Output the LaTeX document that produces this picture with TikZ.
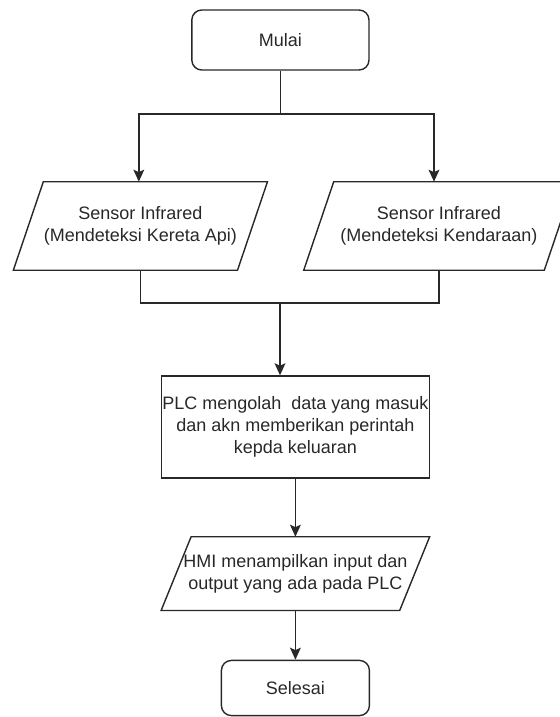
\documentclass[tikz,border=0pt]{standalone}
\usepackage{fontspec}
\setmainfont{Liberation Sans}
\usetikzlibrary{arrows.meta,positioning,calc}
\definecolor{flowgray}{RGB}{40,40,40}

\tikzset{
    terminal/.style={draw=flowgray, line width=1pt, rounded corners=0.25cm, align=center, text=flowgray},
    process/.style={draw=flowgray, line width=1pt, align=center, text=flowgray, inner sep=0.02cm},
    io/.style={align=center, text=flowgray, inner sep=0pt},
    flow/.style={draw=flowgray, line width=1pt},
    arrow/.style={flow, -{Stealth[length=3mm,width=2.7mm,inset=0.6mm]}}
}

% slanted outline round an io node
\newcommand{\iooutline}[1]{%
    \draw[flow, line join=miter] ($(#1.south west)+(-0.375,0)$) -- ($(#1.north west)+(0.375,0)$)
        -- ($(#1.north east)+(0.375,0)$) -- ($(#1.south east)+(-0.375,0)$) -- cycle;}

\begin{document}
\begin{tikzpicture}[font=\fontsize{12.8}{15.5}\selectfont]
    \useasboundingbox (0,0) rectangle (14,-17.925);

    % Start
    \node[terminal, minimum width=4.43cm, minimum height=1.5cm] (mulai) at (7.01,-1.0) {Mulai};

    % Input sensors
    \node[io, minimum width=5.59cm, minimum height=2.2cm] (infraA) at (3.51,-5.65) {Sensor Infrared\\(Mendeteksi Kereta Api)};
    \iooutline{infraA}
    \node[io, minimum width=6cm, minimum height=2.2cm] (infraB) at (10.975,-5.65) {Sensor Infrared\\(Mendeteksi Kendaraan)};
    \iooutline{infraB}

    % PLC processing
    \node[process, minimum width=6.65cm, minimum height=2.55cm] (plc) at (7.385,-10.675) {PLC mengolah\ \ data yang masuk\\dan akn memberikan perintah\\kepda keluaran};

    % HMI display
    \node[io, minimum width=5.95cm, minimum height=1.83cm] (hmi) at (7.385,-14.34) {HMI menampilkan input dan\\output yang ada pada PLC};
    \iooutline{hmi}

    % End
    \node[terminal, minimum width=3.7cm, minimum height=1.38cm] (selesai) at (7.385,-17.2) {Selesai};

    % Connectors
    \coordinate (split) at (7.01,-2.85);
    \coordinate (merge) at (7.0,-7.575);
    \draw[flow] (mulai.south) -- (split);
    \draw[arrow] (split) -| ([xshift=-0.04cm]infraA.north);
    \draw[arrow] (split) -| ([xshift=-0.125cm]infraB.north);
    \draw[flow] (infraA.south) |- (merge) -| (infraB.south);
    \draw[arrow] (merge) -- (merge |- plc.north);
    \draw[arrow] (plc.south) -- (hmi.north);
    \draw[arrow] (hmi.south) -- (selesai.north);
\end{tikzpicture}
\end{document}
